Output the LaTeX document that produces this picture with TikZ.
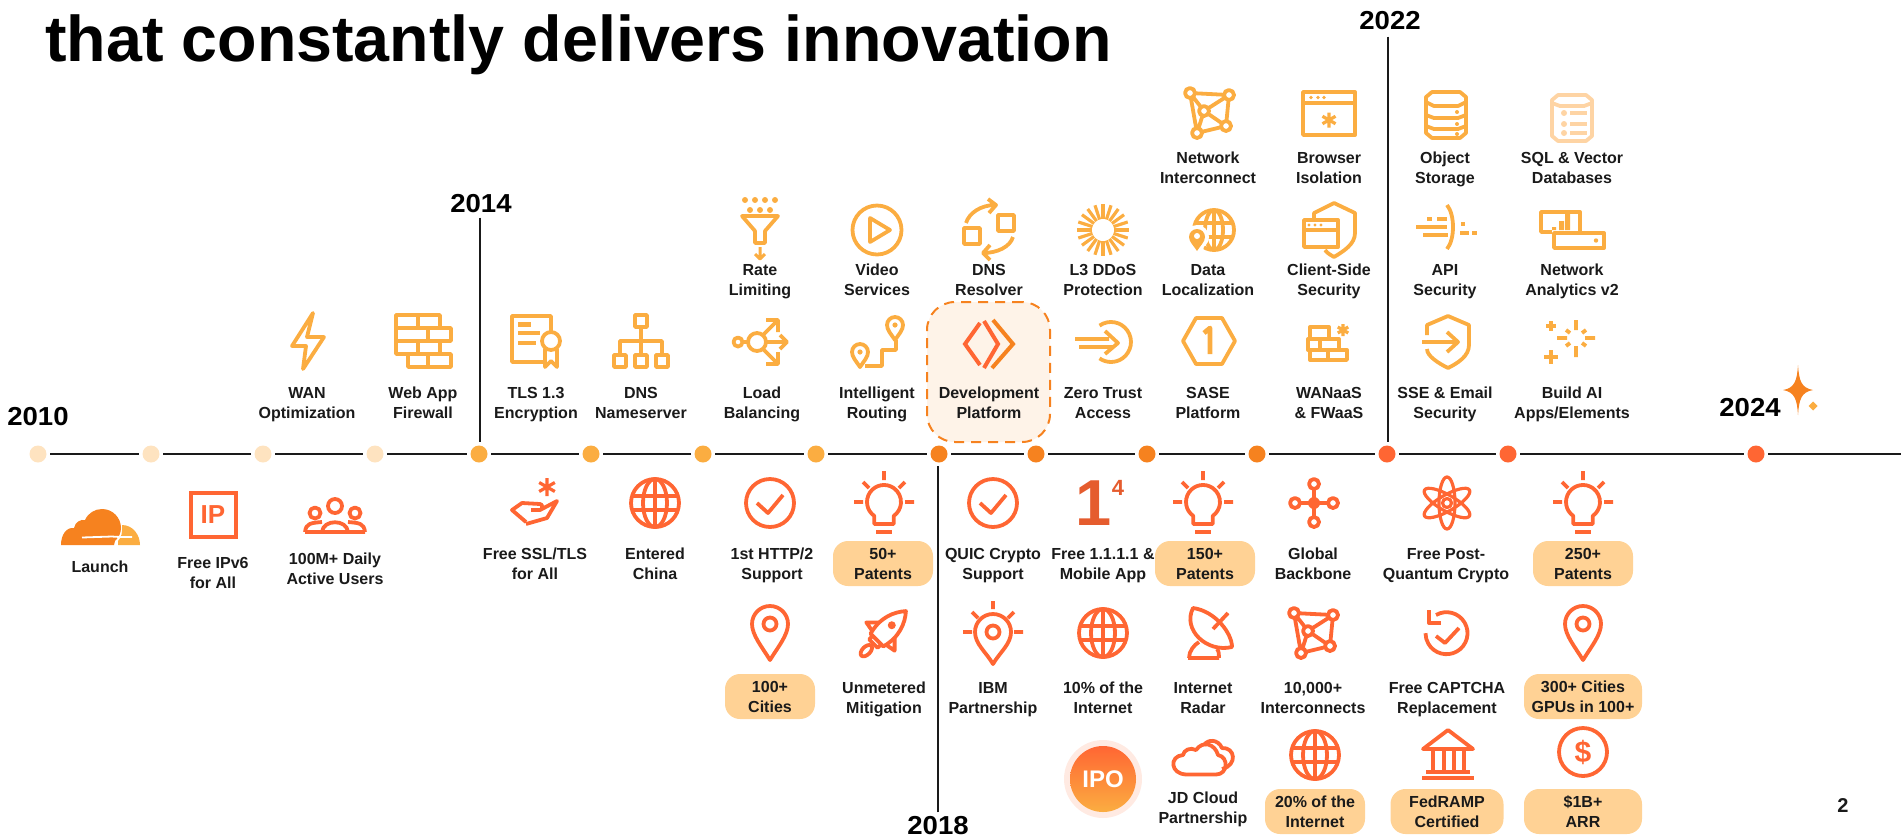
\documentclass[tikz,border=0pt]{standalone}
\usepackage{fontspec}
\usetikzlibrary{calc}
\setmainfont{Liberation Sans}
\newfontfamily\labfont{Liberation Sans Bold}
\newfontfamily\yearfont[FakeStretch=1.06]{Liberation Sans Bold}
\newfontfamily\headfont{Liberation Sans Bold}
\definecolor{amber}{HTML}{FBAD41}
\definecolor{cforange}{HTML}{F6821F}
\definecolor{redor}{HTML}{FF6633}
\definecolor{palec}{HTML}{FEE3C0}
\definecolor{pillc}{HTML}{FFD295}
\definecolor{devbg}{HTML}{FEF3E8}
\definecolor{inkc}{HTML}{1A1A1A}
\colorlet{icol}{amber}
\tikzset{
 ic/.style={draw=icol,line width=1.9pt,line join=round},
 icf/.style={fill=icol},
 lbl/.style={font=\labfont\fontsize{8}{10}\selectfont,text=inkc,align=center,inner sep=0pt},
 yr/.style={font=\yearfont\fontsize{13}{15}\selectfont,text=black,inner sep=0pt},
 pillnode/.style={lbl,fill=pillc,rounded corners=7.5pt},
 dot/.style={circle,minimum size=8.5pt,inner sep=0pt,outer sep=1.8pt},
 tl/.style={draw=inkc,line width=1.2pt},
 yrline/.style={draw=inkc,line width=1.2pt},
}
\newcommand\ic[3]{\begin{scope}[shift={(#1,#2)}]#3\end{scope}}
\newcommand\lab[4]{\node[lbl] (#1) at (#2,#3) {\rule{0pt}{8pt}#4\rule[-2pt]{0pt}{2pt}};}
\newcommand\pil[6]{\node[pillnode,minimum width=#4*0.5pt,minimum height=#5*0.5pt] (#1) at (#2,#3) {\rule{0pt}{8pt}#6\rule[-2pt]{0pt}{2pt}};}
\newcommand\tdot[3]{\node[dot,fill=#3] (#1) at (#2,454) {};}
\newcommand\raysI{\draw[ic] (0,-31)--(0,-22) (-30,0)--(-21,0) (30,0)--(21,0) (-21,-20)--(-15,-14) (21,-20)--(15,-14);}
\newcommand\icBulb{\raysI
 \draw[ic] (-9.75,13.9) arc[start angle=125,end angle=415,radius=17] -- (9.75,22) -- (-9.75,22) -- cycle;
 \draw[ic] (-8,30)--(8,30);}
\newcommand\icCheck{\draw[ic] (0,0) circle (24); \draw[ic] (-13,0)--(-2,10)--(13,-8);}
\newcommand\icPin{\draw[ic] (0,27) .. controls (-8,14) and (-18,2) .. (-18,-9) arc[start angle=180,end angle=360,radius=18] .. controls (18,2) and (8,14) .. (0,27) -- cycle; \draw[ic] (0,-9) circle (6.5);}
\newcommand\icGlobe{\draw[ic] (0,0) circle (24); \draw[ic] (0,0) circle [x radius=12,y radius=24]; \draw[ic] (0,-24)--(0,24) (-22,-7)--(22,-7) (-22,7)--(22,7);}
\newcommand\icMesh{\draw[ic] (-19,-20)--(20,-18)--(17,13)--(-12,20)--cycle (-19,-20)--(-5,-2)--(20,-18) (-5,-2)--(17,13) (-5,-2)--(-12,20);
 \foreach \p in {(-19,-20),(20,-18),(-5,-2),(17,13),(-12,20)} {\draw[ic,fill=white] \p circle (5);}}
\newcommand\aster[3]{\draw[ic,line width=1.6pt] (#1,#2-#3)--(#1,#2+#3) (#1-0.87*#3,#2-0.5*#3)--(#1+0.87*#3,#2+0.5*#3) (#1-0.87*#3,#2+0.5*#3)--(#1+0.87*#3,#2-0.5*#3);}
\newcommand\minipin[2]{\draw[ic] (#1,#2+15) .. controls (#1-4,#2+9) and (#1-8,#2+5) .. (#1-8,#2) arc[start angle=180,end angle=360,radius=8] .. controls (#1+8,#2+5) and (#1+4,#2+9) .. (#1,#2+15) -- cycle; \fill[icf] (#1,#2) circle (2.6);}
\begin{document}
\begin{tikzpicture}[x=0.5pt,y=-0.5pt]
\useasboundingbox (0,0) rectangle (1901,837);
\node[font=\headfont\fontsize{32.3}{36}\selectfont,text=black,anchor=base west,inner sep=0pt] (title) at (45,61) {that constantly delivers innovation};
% timeline
\tdot{d1}{38}{palec}\tdot{d2}{151}{palec}\tdot{d3}{263}{palec}\tdot{d4}{375}{palec}
\tdot{d5}{479}{amber}\tdot{d6}{591}{amber}\tdot{d7}{703}{amber}\tdot{d8}{816}{amber}
\tdot{d9}{939}{cforange}\tdot{d10}{1036}{cforange}\tdot{d11}{1147}{cforange}\tdot{d12}{1257}{cforange}
\tdot{d13}{1387}{redor}\tdot{d14}{1508}{redor}\tdot{d15}{1756}{redor}
\coordinate (tlend) at (1901,454);
\foreach \a/\b in {d1/d2,d2/d3,d3/d4,d4/d5,d5/d6,d6/d7,d7/d8,d8/d9,d9/d10,d10/d11,d11/d12,d12/d13,d13/d14,d14/d15,d15/tlend} {\draw[tl] (\a) -- (\b);}
% years
\node[yr] (y2010) at (38,417) {2010};
\node[yr] (y2014) at (481,204) {2014};
\node[yr] (y2018) at (938,826) {2018};
\node[yr] (y2022) at (1390,21) {2022};
\node[yr] (y2024) at (1750,408) {2024};
\draw[yrline] (y2014.south) ++(-1,4) coordinate (y14a) -- (y14a |- d5.north);
\draw[yrline] (y2018.north) ++(0,-4) coordinate (y18a) -- (y18a |- d9.south);
\draw[yrline] (y2022.south) ++(-2,6) coordinate (y22a) -- (y22a |- d13.north);
% sparkle
\fill[cforange] (1798,365) .. controls (1799,380) and (1801,388) .. (1813,390) .. controls (1801,392) and (1799,400) .. (1798,415) .. controls (1797,400) and (1795,392) .. (1783,390) .. controls (1795,388) and (1797,380) .. (1798,365) -- cycle;
\fill[amber] (1813,401.5)--(1817.5,406)--(1813,410.5)--(1808.5,406)--cycle;
% dev box
\node[draw=cforange,fill=devbg,dashed,line width=1pt,dash pattern=on 5pt off 3.5pt,rounded corners=14pt,minimum width=61.5pt,minimum height=70pt,inner sep=0pt] (devbox) at (988.5,372) {};
% row A upper labels
\lab{a1}{307}{402}{WAN\\Optimization}
\lab{a2}{423}{402}{Web App\\Firewall}
\lab{a3}{536}{402}{TLS 1.3\\Encryption}
\lab{a4}{641}{402}{DNS\\Nameserver}
\lab{a5}{762}{402}{Load\\Balancing}
\lab{a6}{877}{402}{Intelligent\\Routing}
\lab{a7}{989}{402}{Development\\Platform}
\lab{a8}{1103}{402}{Zero Trust\\Access}
\lab{a9}{1208}{402}{SASE\\Platform}
\lab{a10}{1329}{402}{WANaaS\\\& FWaaS}
\lab{a11}{1445}{402}{SSE \& Email\\Security}
\lab{a12}{1572}{402}{Build AI\\Apps/Elements}
\lab{b1}{760}{279}{Rate\\Limiting}
\lab{b2}{877}{279}{Video\\Services}
\lab{b3}{989}{279}{DNS\\Resolver}
\lab{b4}{1103}{279}{L3 DDoS\\Protection}
\lab{b5}{1208}{279}{Data\\Localization}
\lab{b6}{1329}{279}{Client-Side\\Security}
\lab{b7}{1445}{279}{API\\Security}
\lab{b8}{1572}{279}{Network\\Analytics v2}
\lab{c1}{1208}{167}{Network\\Interconnect}
\lab{c2}{1329}{167}{Browser\\Isolation}
\lab{c3}{1445}{167}{Object\\Storage}
\lab{c4}{1572}{167}{SQL \& Vector\\Databases}
% lower labels
\lab{l1}{100}{566}{Launch}
\lab{l2}{213}{572.5}{Free IPv6\\for All}
\lab{l3}{335}{568.5}{100M+ Daily\\Active Users}
\lab{l4}{535}{563}{Free SSL/TLS\\for All}
\lab{l5}{655}{563}{Entered\\China}
\lab{l6}{772}{563}{1st HTTP/2\\Support}
\pil{l7}{883}{563.5}{100}{45}{50+\\Patents}
\lab{l8}{993}{563}{QUIC Crypto\\Support}
\lab{l9}{1103}{563}{Free 1.1.1.1 \&\\Mobile App}
\pil{l10}{1205}{563.5}{100}{45}{150+\\Patents}
\lab{l11}{1313}{563}{Global\\Backbone}
\lab{l12}{1446}{563}{Free Post-\\Quantum Crypto}
\pil{l13}{1583}{563.5}{100}{45}{250+\\Patents}
\pil{m1}{770}{696.5}{90}{45}{100+\\Cities}
\lab{m2}{884}{697}{Unmetered\\Mitigation}
\lab{m3}{993}{697}{IBM\\Partnership}
\lab{m4}{1103}{697}{10\% of the\\Internet}
\lab{m5}{1203}{697}{Internet\\Radar}
\lab{m6}{1313}{697}{10,000+\\Interconnects}
\lab{m7}{1447}{697}{Free CAPTCHA\\Replacement}
\pil{m8}{1583}{696.5}{118}{45}{300+ Cities\\GPUs in 100+}
\lab{n1}{1203}{807}{JD Cloud\\Partnership}
\pil{n2}{1315}{811.5}{100}{45}{20\% of the\\Internet}
\pil{n3}{1447}{811.5}{113}{45}{FedRAMP\\Certified}
\pil{n4}{1583}{811.5}{118}{45}{\$1B+\\ARR}
\node[lbl,font=\labfont\fontsize{10}{12}\selectfont] (pageno) at (1843,805) {2};
% UPPER ICONS
\ic{307}{341}{\draw[ic] (6,-28)--(-15,5)--(-1,5)--(-4,28)--(17,-4)--(0,-4)--cycle;}
\ic{423}{341}{\draw[ic] (-27,-26) rectangle (17,-13) (-27,-13) rectangle (28,0) (-27,0) rectangle (17,13) (-15,13) rectangle (28,26)
 (-5,-26)--(-5,-13) (5,-13)--(5,0) (-5,0)--(-5,13) (5,13)--(5,26);}
\ic{537}{341}{\draw[ic] (14,-9)--(14,-25)--(-25,-25)--(-25,21)--(7,21);
 \fill[icf] (-19,-19) rectangle (-6,-14);
 \draw[ic] (-19,-8)--(3,-8) (-19,2)--(-1,2);
 \draw[ic] (14,0) circle (9);
 \draw[ic] (8,8)--(8,26)--(14,20)--(20,26)--(20,8);}
\ic{641}{341}{\draw[ic] (-6,-26) rectangle (6,-14) (-27,14) rectangle (-15,26) (-6,14) rectangle (6,26) (15,14) rectangle (27,26)
 (0,-14)--(0,14) (-21,14)--(-21,0)--(21,0)--(21,14);}
\ic{760}{342}{\draw[ic] (-22,0) circle (4.5); \draw[ic] (-3,0) circle (9);
 \draw[ic] (-17,0)--(-12,0) (6,0)--(27,0) (3,-7)--(17,-21) (3,7)--(17,21) (20,-7)--(27,0)--(20,7) (6,-22)--(18,-22)--(18,-10) (6,22)--(18,22)--(18,10);}
\ic{877}{342}{\minipin{18}{-17}\minipin{-17}{10}\draw[ic] (-12,24)--(5,24)--(5,8)--(19,8)--(19,-2);}
\ic{989}{344}{\draw[line width=2pt,draw=redor,line join=miter] (-9,-21)--(-24,0)--(-9,21);
 \draw[line width=2pt,draw=redor] (-5,-23)--(9,0)--(-5,24);
 \draw[line width=2pt,draw=cforange] (4,-24)--(24,0)--(3,24);}
\ic{1103}{342}{\draw[ic] (-3.5,-16.4) arc[start angle=-125,end angle=125,radius=20];
 \draw[ic] (-28,-3)--(6,-3) (-24,5)--(10,5) (2,-11)--(15,1)--(2,12);}
\ic{1209}{341}{\draw[ic] (-26,0)--(-13,-23)--(13,-23)--(26,0)--(13,23)--(-13,23)--cycle;
 \draw[ic,line width=2.4pt] (-5,-8)--(1,-13)--(1,13);}
\ic{1328}{342}{\draw[ic,line width=1.7pt] (-18,-15) rectangle (1,-3) (-20,-3) rectangle (11,8) (-18,8) rectangle (19,18) (-8,-3)--(-8,8) (0,8)--(0,18);
 \aster{15}{-12}{6}}
\ic{1446}{342}{\draw[ic] (-19,-7)--(-19,-17)--(2,-26)--(23,-17)--(23,3) .. controls (23,14) and (12,21) .. (2,26) .. controls (-8,21) and (-19,14) .. (-19,7);
 \draw[ic] (-24,0)--(12,0) (1,-10)--(12,0)--(1,10);}
\ic{1570}{342}{\begin{scope}[shift={(6,-4)}]
 \draw[ic] (0,-18)--(0,-8) (0,8)--(0,19) (-19,0)--(-9,0) (9,0)--(19,0) (-10,-8)--(-6,-5) (10,-8)--(6,-5) (-10,8)--(-6,5) (10,8)--(6,5);
 \end{scope}
 \draw[ic] (-24,-16)--(-14,-16) (-19,-21)--(-19,-11) (-26,15)--(-12,15) (-19,8)--(-19,22);}
\ic{760}{228}{\foreach \q in {-15,-5,5,15} {\fill[icf] (\q,-28) circle (3);}
 \foreach \q in {-10,0,10} {\fill[icf] (\q,-18) circle (3);}
 \draw[ic] (-18,-12)--(18,-12)--(5,3)--(5,15)--(-5,15)--(-5,3)--cycle;
 \draw[ic,line width=1.5pt] (0,19)--(0,31) (-5,26)--(0,31)--(5,26);}
\ic{877}{230}{\draw[ic] (0,0) circle (24.5); \draw[ic] (-7,-12)--(-7,12)--(13,0)--cycle;}
\ic{989}{230}{\draw[ic] (-25,-2) rectangle (-9,14) (9,-15) rectangle (25,1);
 \draw[ic] (-23,-7) .. controls (-20,-17) and (-8,-25) .. (6,-25) (-1,-31)--(7,-25)--(0,-17);
 \draw[ic] (24,7) .. controls (21,17) and (8,23) .. (-6,23) (1,15)--(-6,23)--(1,30);}
\ic{1103}{230}{\foreach \t in {0,18,...,342} {\draw[draw=icol,line width=1.6pt] (\t:11) -- (\t:26);}}
\ic{1212}{230}{\draw[ic] (2,0) circle (20); \draw[ic] (2,0) circle [x radius=9,y radius=20]; \draw[ic] (2,-20)--(2,20) (-16,-7)--(20,-7) (-16,7)--(20,7);
 \fill[white] (-15,7) circle (12); \fill[white] (-15,16) circle (7);
 \fill[icf] (-15,21) .. controls (-18,16) and (-23,12) .. (-23,7) arc[start angle=180,end angle=360,radius=8] .. controls (-7,12) and (-12,16) .. (-15,21) -- cycle;
 \fill[white] (-15,6) circle (3);}
\ic{1330}{230}{\draw[ic] (-16,-11)--(-16,-17)--(4,-27)--(25,-17)--(25,3) .. controls (25,14) and (14,21) .. (4,27) .. controls (1,25) and (-2,24) .. (-5,20);
 \draw[ic,fill=white] (-26,-10) rectangle (8,17); \draw[ic] (-26,0)--(8,0);
 \foreach \q in {-21,-15,-9} {\fill[icf] (\q,-5) circle (1.7);}}
\ic{1446}{227}{\draw[ic] (1,-22) .. controls (9,-12) and (9,12) .. (1,22);
 \draw[ic] (-30,0)--(1,0) (-23,8)--(2,8) (-9,-8)--(1,-8) (-19,-8)--(-14,-8) (15,-3)--(19,-3) (14,6)--(23,6) (26,6)--(31,6);}
\ic{1572}{230}{\draw[ic] (-20,2)--(-31,2)--(-31,-18)--(8,-18)--(8,4);
 \draw[ic,fill=white] (-18,3) rectangle (32,18); \fill[icf] (24,10.5) circle (2.2);
 \fill[icf] (-20,-3) rectangle (-16,0) (-13,-9) rectangle (-8,0) (-7,-16) rectangle (-2,0);}
\ic{1209}{113}{\icMesh}
\ic{1329}{113}{\draw[ic] (-26,-21) rectangle (26,22); \draw[ic] (-26,-10)--(26,-10);
 \foreach \q in {-18,-11,-5} {\fill[icf] (\q,-15.5) circle (1.8);}
 \aster{0}{7}{7.5}}
\ic{1446}{115}{\draw[ic] (-14,-23)--(14,-23)--(20,-18)--(20,18)--(14,23)--(-14,23)--(-20,18)--(-20,-18)--cycle (-20,-13)--(-12,-9)--(12,-9)--(20,-13) (-20,0)--(-12,3)--(12,3)--(20,0) (-20,11)--(-12,14)--(12,14)--(20,11);
 \foreach \q in {-3,9,19} {\fill[icf] (11,\q) circle (2);}}
\begin{scope}[shift={(1572,118)}]
\colorlet{icol}{pillc!80!cforange!70}
\draw[ic] (-14,-23)--(14,-23)--(20,-18)--(20,18)--(14,23)--(-14,23)--(-20,18)--(-20,-18)--cycle (-20,-15)--(-12,-12)--(12,-12)--(20,-15);
\draw[ic] (-2,-5)--(15,-5) (-2,6)--(15,6) (-2,15)--(15,15);
\foreach \q in {-5,6,15} {\fill[icf] (-8,\q) circle (3);}
\end{scope}
% LOWER ICONS
\colorlet{icol}{redor}
\fill[cforange] (61,545) .. controls (61,534) and (67,527) .. (74,528) .. controls (75,522) and (81,519) .. (85,520) .. controls (88,513) and (95,509) .. (102,509) .. controls (113,509) and (121,518) .. (121,528) .. controls (121,533) and (119,537) .. (115,541) -- (114,545) -- cycle;
\fill[amber] (122,525) .. controls (133,525) and (140,535) .. (140,545) -- (118,545) -- (118,541) .. controls (121,538) and (123,532) .. (122,525) -- cycle;
\draw[white,line width=0.9pt] (82,537.5) -- (112,536.5) .. controls (117,537) and (122,537) .. (132,537);
\ic{213}{515}{\draw[ic,line join=miter] (-22,-22) rectangle (23,22);
 \node[font=\headfont\fontsize{13}{13}\selectfont,text=redor,inner sep=0pt] (iptext) at (0,0) {IP};}
\ic{335}{515}{\draw[ic] (0,-9) circle (7) (-20,-2) circle (5.5) (20,-2) circle (5.5);
 \draw[ic] (-30,17)--(30,17) (-13,17) .. controls (-12,4) and (12,4) .. (13,17) (-30,17) .. controls (-29,8) and (-24,8) .. (-13,7) (30,17) .. controls (29,8) and (24,8) .. (13,7);}
\ic{535}{503}{\aster{12}{-16}{9}
 \draw[ic] (-9,19) -- (-23,7) -- (-13,0) -- (5,1) .. controls (8,1) and (8,7) .. (5,7) -- (-4,7) (5,7) -- (22,-2) -- (12,15) -- (-9,21);}
\ic{655}{503}{\icGlobe}
\ic{770}{503}{\icCheck}
\ic{884}{502}{\icBulb}
\ic{993}{503}{\icCheck}
\node[font=\headfont\fontsize{32.5}{33}\selectfont,text=redor!90!black,inner sep=0pt] (one) at (1100,503) {1\raisebox{14.7pt}{\fontsize{11}{11}\selectfont 4}};
\ic{1203}{502}{\icBulb}
\ic{1314}{503}{\draw[ic] (-19,0)--(19,0) (0,-19)--(0,19); \fill[icf] (0,0) circle (6);
 \foreach \p in {(-19,0),(19,0),(0,-19),(0,19)} {\draw[ic,fill=white] \p circle (5);}}
\ic{1447}{503}{\foreach \r in {0,60,-60} {\begin{scope}[rotate=\r]\draw[ic,line width=1.6pt] (0,0) circle [x radius=8,y radius=26];\end{scope}}
 \draw[ic,fill=white,line width=1.6pt] (0,0) circle (4.5);}
\ic{1583}{502}{\icBulb}
\ic{770}{633}{\icPin}
\ic{884}{633}{\begin{scope}[rotate=-45]
 \draw[ic] (-9,10) .. controls (-14,-8) and (-8,-22) .. (0,-31) .. controls (8,-22) and (14,-8) .. (9,10) -- cycle;
 \fill[icf] (0,-11) circle (4);
 \draw[ic] (-11,-4)--(-20,5)--(-9,7) (11,-4)--(20,5)--(9,7) (-6,10)--(-6,15)--(6,15)--(6,10);
 \draw[ic] (0,25) circle [x radius=4,y radius=7];
 \end{scope}}
\ic{993}{632}{\draw[ic] (0,-31)--(0,-23) (-30,0)--(-21,0) (30,0)--(21,0) (-21,-20)--(-15,-14) (21,-20)--(15,-14);
 \draw[ic] (0,32) .. controls (-7,20) and (-18,12) .. (-18,0) arc[start angle=180,end angle=360,radius=18] .. controls (18,12) and (7,20) .. (0,32) -- cycle;
 \draw[ic] (0,0) circle (6.5);}
\ic{1103}{633}{\icGlobe}
\ic{1210}{633}{\draw[ic] (-17,-25) .. controls (-28,-3) and (-3,20) .. (22,14) .. controls (22,0) and (5,-22) .. (-17,-25) -- cycle;
 \draw[ic] (3,-4)--(18,-20);
 \draw[ic] (-21,25) .. controls (-21,18) and (-16,12) .. (-11,9) (7,16) .. controls (9,18) and (9,22) .. (9,25) (-22,25)--(9,25);}
\ic{1313}{633}{\icMesh}
\ic{1447}{634}{\draw[ic] (-11,-19) arc[start angle=-120,end angle=180,radius=21];
 \draw[ic] (-18,-24)--(-18,-11)--(-6,-11);
 \draw[ic] (-11,2)--(-2,9)--(12,-6);}
\ic{1583}{633}{\icPin}
\node[circle,fill=redor!14,minimum size=39pt,inner sep=0pt] (ipoo) at (1103,779) {};
\node[circle,top color=redor,bottom color=amber,minimum size=33pt,inner sep=0pt,text=white,font=\headfont\fontsize{12}{12}\selectfont] (ipo) at (1103,779) {IPO};
\draw[ic] (1187,774.5) -- (1216,774.5) .. controls (1228,774.5) and (1229,757) .. (1218,755) .. controls (1215,744) and (1203,740) .. (1196,750) .. controls (1190,747) and (1184,750) .. (1183,755) .. controls (1169,756) and (1170,774.5) .. (1187,774.5) -- cycle;
\draw[ic] (1204,745) .. controls (1208,739) and (1218,739) .. (1222,748) .. controls (1235,747) and (1238,765) .. (1222,769);
\ic{1315}{755}{\icGlobe}
\ic{1448}{755}{\draw[ic] (-25,-6)--(0,-25)--(25,-6)--cycle;
 \draw[ic] (-15,-5)--(-15,15) (-4,-5)--(-4,15) (6,-5)--(6,15) (16,-5)--(16,15) (-22,17)--(22,17);
 \draw[ic] (-26,23)--(26,23);}
\ic{1583}{752}{\draw[ic] (0,0) circle (24);
 \node[font=\headfont\fontsize{15}{15}\selectfont,text=redor,inner sep=0pt] (dollar) at (0,0) {\$};}
\end{tikzpicture}
\end{document}
